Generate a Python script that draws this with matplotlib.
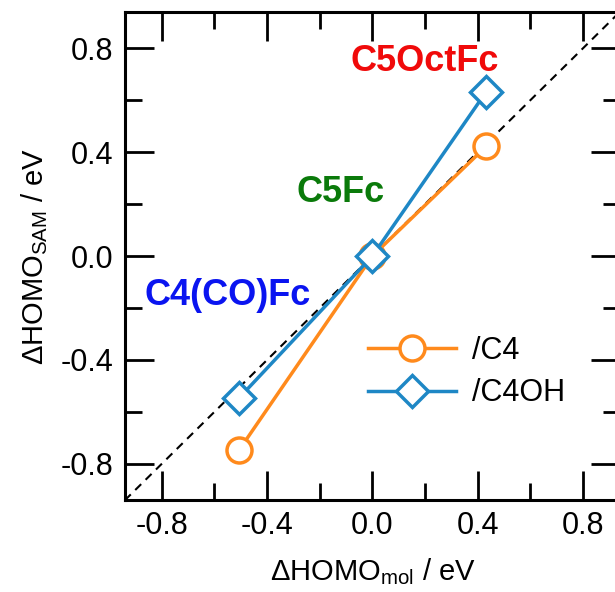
import matplotlib
matplotlib.use('Agg')
import matplotlib.pyplot as plt
from matplotlib.ticker import MultipleLocator

plt.rcParams['font.family'] = ['Liberation Sans', 'DejaVu Sans']
plt.rcParams['mathtext.fontset'] = 'custom'
plt.rcParams['mathtext.rm'] = 'Liberation Sans'
plt.rcParams['axes.unicode_minus'] = False

# data
homo_mol = [-0.505, 0.0, 0.432]
c4 = [-0.745, 0.0, 0.422]
c4oh = [-0.545, 0.0, 0.632]
labels = ['C4(CO)Fc', 'C5Fc', 'C5OctFc']
label_colors = ['#0a14f0', '#0a7a0a', '#f00a0a']
label_pos = [(-0.55, -0.15), (-0.12, 0.245), (0.2, 0.75)]

orange = '#ff8a1c'
blue = '#1e87c5'

fig = plt.figure(figsize=(6.15, 5.92), dpi=100)
ax = fig.add_axes([0.203, 0.155, 0.805, 0.825])

lim = (-0.94, 0.94)
ax.plot(lim, lim, ls=(0, (4, 3)), color='black', lw=1.5, zorder=1)

ax.plot(homo_mol, c4, '-o', color=orange, lw=2.5, ms=18, mfc='white',
        mec=orange, mew=2.5, label='/C4', zorder=2)
ax.plot(homo_mol, c4oh, '-D', color=blue, lw=2.5, ms=16, mfc='white',
        mec=blue, mew=2.5, label='/C4OH', zorder=3)

for txt, c, (x, y) in zip(labels, label_colors, label_pos):
    ax.text(x, y, txt, color=c, fontsize=26, fontweight='bold',
            ha='center', va='center')

ax.set_xlim(lim)
ax.set_ylim(lim)
ax.xaxis.set_major_locator(MultipleLocator(0.4))
ax.xaxis.set_minor_locator(MultipleLocator(0.2))
ax.yaxis.set_major_locator(MultipleLocator(0.4))
ax.yaxis.set_minor_locator(MultipleLocator(0.2))
ax.tick_params(which='both', direction='in', top=True, right=True,
               width=2, labelsize=22, pad=8)
ax.tick_params(which='major', length=21)
ax.tick_params(which='minor', length=12)
for s in ax.spines.values():
    s.set_linewidth(2.2)

ax.set_xlabel(r'$\Delta$HOMO$_{\mathrm{mol}}$ / eV', fontsize=21, labelpad=11)
ax.set_ylabel(r'$\Delta$HOMO$_{\mathrm{SAM}}$ / eV', fontsize=21, labelpad=8)

ax.legend(loc='center left', bbox_to_anchor=(0.435, 0.262), frameon=False,
          fontsize=22, handlelength=2.9, handletextpad=0.5, labelspacing=0.4)

fig.savefig('out.png', dpi=100)
